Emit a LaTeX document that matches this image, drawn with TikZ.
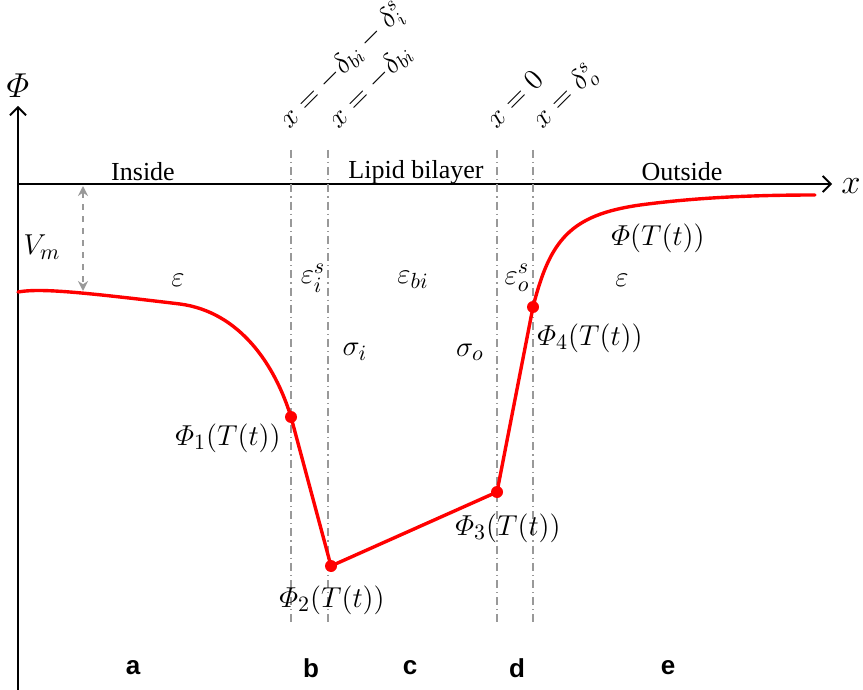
\documentclass[tikz,border=0pt]{standalone}
\usepackage{amsmath}
\usepackage{fontspec}
\setmainfont{Liberation Serif}
\setsansfont{Liberation Sans}
\usetikzlibrary{arrows.meta,calc,positioning}
\definecolor{PlotInk}{HTML}{000000}
\definecolor{PlotRed}{HTML}{FF0000}
\definecolor{PlotGrey}{HTML}{999999}
\tikzset{
  every node/.style={font=\fontsize{13}{15}\selectfont, text=PlotInk, inner sep=1pt},
  mathlabel/.style={font=\fontsize{15}{17}\selectfont},
  axis/.style={draw=PlotInk, line width=0.9pt, -{Straight Barb[length=4pt,width=8pt]}},
  boundary/.style={draw=PlotGrey, line width=0.7pt, dash pattern=on 4pt off 2pt on 0.6pt off 2pt},
  profile/.style={draw=PlotRed, line width=1.7pt, line cap=round, line join=round},
  knot/.style={circle, fill=PlotRed, minimum size=6pt, inner sep=0pt},
  gap/.style={{Stealth[length=5pt,width=5pt]}-{Stealth[length=5pt,width=5pt]}, draw=PlotGrey, line width=0.8pt, dashed},
  tag/.style={font=\fontsize{14}{16}\selectfont, rotate=45, anchor=base west},
  region/.style={font=\sffamily\bfseries\fontsize{13}{15}\selectfont},
}
\begin{document}
\begin{tikzpicture}[x=0.5pt, y=-0.5pt]
  \useasboundingbox (0,0) rectangle (863,690);
  % axes
  \coordinate (origin) at (18,184);
  \draw[axis] (18,690) -- (18,106);
  \node[mathlabel, font=\fontsize{17}{19}\selectfont] (phi) at (18,86) {$\varPhi$};
  \draw[axis] (origin) -- (832,184);
  \node[font=\fontsize{19}{21}\selectfont] (xlab) at (851,186) {$x$};
  \node (inside) at (143,172) {Inside};
  \node (lipid) at (416,172) {Lipid bilayer};
  \node (outside) at (682,172) {Outside};
  % interface lines and their positions
  \foreach \xpos in {291,328,497,533}
    \draw[boundary] (\xpos,150) -- (\xpos,626);
  \node[tag] (t1) at (288,131) {$x=-\delta_{bi}-\delta_i^s$};
  \node[tag] (t2) at (337,131) {$x=-\delta_{bi}$};
  \node[tag] (t3) at (495,131) {$x=0$};
  \node[tag] (t4) at (541,131) {$x=\delta_o^s$};
  % membrane potential
  \coordinate (vtop) at (83,186);
  \coordinate (vbot) at (83,291);
  \draw[gap] (vtop) -- (vbot);
  \node[mathlabel] (vm) at (42,247) {$V_m$};
  % potential profile
  \node[knot] (p1) at (291,417) {};
  \node[knot] (p2) at (331,566) {};
  \node[knot] (p3) at (497,492) {};
  \node[knot] (p4) at (533,307) {};
  \draw[profile] (18,292) .. controls (40,288) and (80,292) .. (180,304)
    .. controls (240,312) and (275,365) .. (p1.center);
  \draw[profile] (p1.center) -- (p2.center) -- (p3.center) -- (p4.center);
  \draw[profile] (p4.center) .. controls (550,240) and (570,215) .. (640,205)
    .. controls (700,197) and (760,195) .. (815,195);
  % permittivities and charges
  \node[mathlabel] (e1) at (178,280) {$\varepsilon$};
  \node[mathlabel] (e2) at (313,278) {$\varepsilon_i^s$};
  \node[mathlabel] (e3) at (413,280) {$\varepsilon_{bi}$};
  \node[mathlabel] (e4) at (517,278) {$\varepsilon_o^s$};
  \node[mathlabel] (e5) at (622,280) {$\varepsilon$};
  \node[mathlabel] (si) at (355,352) {$\sigma_i$};
  \node[mathlabel] (so) at (470,352) {$\sigma_o$};
  % potential labels
  \node[mathlabel] (f0) at (658,238) {$\varPhi(T(t))$};
  \node[mathlabel] (f1) at (228,438) {$\varPhi_1(T(t))$};
  \node[mathlabel] (f2) at (332,600) {$\varPhi_2(T(t))$};
  \node[mathlabel] (f3) at (508,528) {$\varPhi_3(T(t))$};
  \node[mathlabel] (f4) at (590,338) {$\varPhi_4(T(t))$};
  % regions
  \node[region] (ra) at (133,668) {a};
  \node[region] (rb) at (311,668) {b};
  \node[region] (rc) at (410,668) {c};
  \node[region] (rd) at (517,668) {d};
  \node[region] (re) at (668,668) {e};
\end{tikzpicture}
\end{document}
